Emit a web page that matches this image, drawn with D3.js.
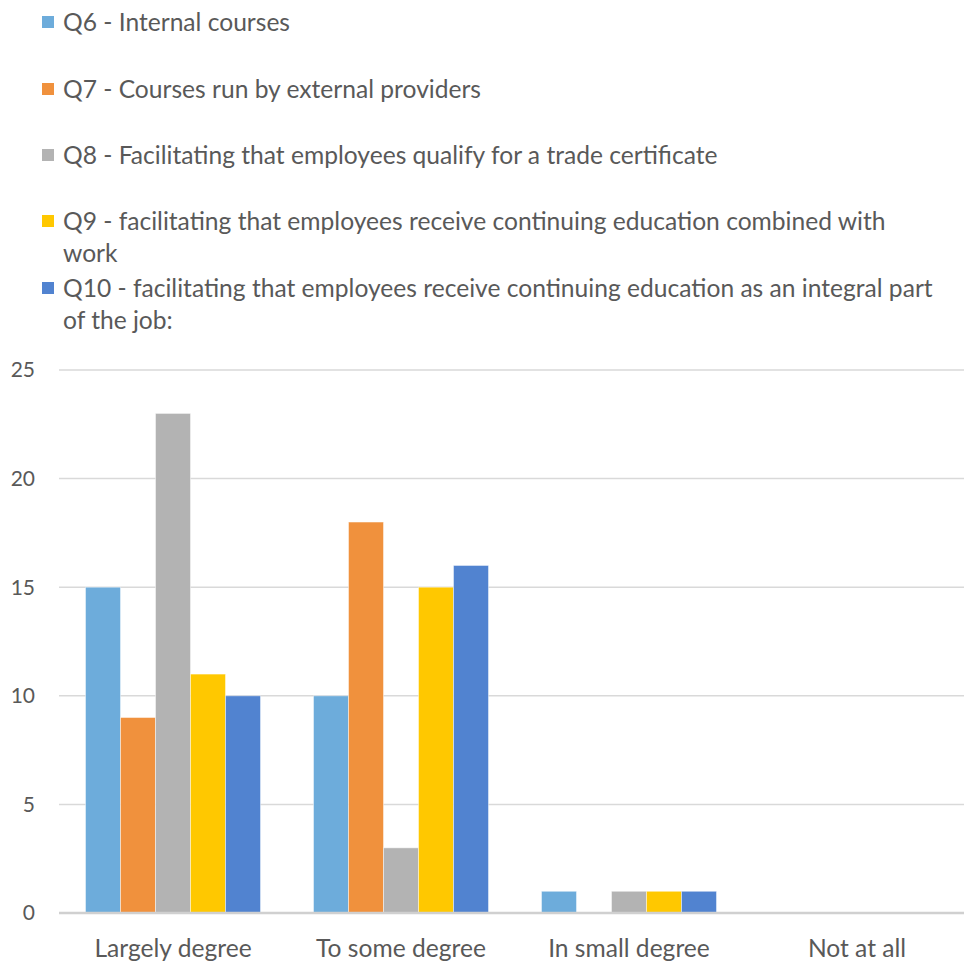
<!DOCTYPE html>
<html>
<head>
<meta charset="utf-8">
<script src="https://cdn.jsdelivr.net/npm/d3@7"></script>
<style>
  body { margin: 0; background: #fff; }
  text { font-family: Lato, "Open Sans", sans-serif; fill: #595959; }
</style>
</head>
<body>
<div id="chart"></div>
<script>
const categories = ["Largely degree", "To some degree", "In small degree", "Not at all"];
const seriesNames = [
    ["Q6 - Internal courses"],
    ["Q7 - Courses run by external providers"],
    ["Q8 - Facilitating that employees qualify for a trade certificate"],
    ["Q9 - facilitating that employees receive continuing education combined with", "work"],
    ["Q10 - facilitating that employees receive continuing education as an integral part", "of the job:"]
];
const q6 = [15, 10, 1, 0];
const q7 = [9, 18, 0, 0];
const q8 = [23, 3, 1, 0];
const q9 = [11, 15, 1, 0];
const q10 = [10, 16, 1, 0];
const yTicks = [0, 5, 10, 15, 20, 25];
const colors = ["#6DACDB", "#F0913D", "#B3B3B3", "#FFC800", "#5183D0"];

const series = [q6, q7, q8, q9, q10];

const width = 964;
const height = 963;

const svg = d3.select("#chart")
    .append("svg")
    .attr("width", width)
    .attr("height", height);

// Legend
const legendY = [22, 89, 155, 221, 288];
const legend = svg.append("g").attr("class", "legend");
seriesNames.forEach((lines, i) => {
    const g = legend.append("g").attr("transform", `translate(0, ${legendY[i]})`);
    g.append("rect")
        .attr("x", 42)
        .attr("y", -6)
        .attr("width", 12)
        .attr("height", 12)
        .style("fill", colors[i]);
    lines.forEach((t, j) => {
        g.append("text")
            .attr("x", 63)
            .attr("y", j * 32)
            .attr("dy", "0.35em")
            .style("font-size", "24.6px")
            .text(t);
    });
});

// Scales
const x0 = d3.scaleBand().domain(categories).range([59, 971]).paddingInner(0).paddingOuter(0);
const groupPad = 26.5;
const x1 = d3.scaleBand()
    .domain(d3.range(series.length))
    .range([groupPad, x0.bandwidth() - groupPad]);
const y = d3.scaleLinear().domain([0, 25]).range([913, 370]);

// Gridlines
svg.append("g")
    .selectAll("line")
    .data(yTicks.filter(d => d > 0))
    .enter()
    .append("line")
    .attr("x1", 59)
    .attr("x2", 971)
    .attr("y1", d => y(d))
    .attr("y2", d => y(d))
    .style("stroke", "#d9d9d9")
    .style("stroke-width", "1.5px");

// Y tick labels
svg.append("g")
    .selectAll("text")
    .data(yTicks)
    .enter()
    .append("text")
    .attr("x", 35)
    .attr("y", d => y(d))
    .attr("dy", "0.35em")
    .style("text-anchor", "end")
    .style("font-size", "21px")
    .text(d => d);

// Bars
const groups = svg.append("g")
    .selectAll("g")
    .data(categories)
    .enter()
    .append("g")
    .attr("transform", d => `translate(${x0(d)}, 0)`);

groups.selectAll("rect")
    .data((d, ci) => series.map((s, si) => ({ si, v: s[ci] })))
    .enter()
    .filter(d => d.v > 0)
    .append("rect")
    .attr("x", d => x1(d.si))
    .attr("width", x1.bandwidth())
    .attr("y", d => y(d.v))
    .attr("height", d => y(0) - y(d.v))
    .style("fill", d => colors[d.si])
    .style("stroke", "rgba(255,255,255,0.45)")
    .style("stroke-width", "1px");

// Baseline
svg.append("line")
    .attr("x1", 59)
    .attr("x2", 971)
    .attr("y1", y(0))
    .attr("y2", y(0))
    .style("stroke", "#d0d0d0")
    .style("stroke-width", "2.5px");

// X labels
svg.append("g")
    .selectAll("text")
    .data(categories)
    .enter()
    .append("text")
    .attr("x", d => x0(d) + x0.bandwidth() / 2)
    .attr("y", 948)
    .attr("dy", "0.35em")
    .style("text-anchor", "middle")
    .style("font-size", "24.6px")
    .text(d => d);
</script>
</body>
</html>
